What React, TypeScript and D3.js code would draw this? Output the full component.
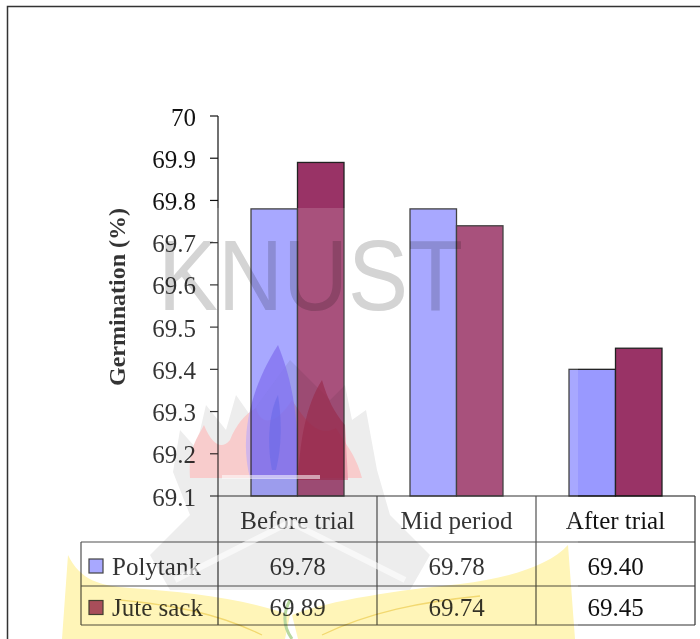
import React from 'react';
import * as d3 from 'd3';

const categories = ['Before trial', 'Mid period', 'After trial'];
const seriesNames = ['Polytank', 'Jute sack'];
const polytankValues = [69.78, 69.78, 69.4];
const juteSackValues = [69.89, 69.74, 69.45];
const seriesColors = ['#9999ff', '#993366'];
const yTickValues = [69.1, 69.2, 69.3, 69.4, 69.5, 69.6, 69.7, 69.8, 69.9, 70];
const yTickLabels = ['69.1', '69.2', '69.3', '69.4', '69.5', '69.6', '69.7', '69.8', '69.9', '70'];
const yAxisTitle = 'Germination (%)';
const watermarkText = 'KNUST';

const W = 700;
const H = 639;
const plotLeft = 218;
const plotRight = 695;
const plotTop = 116;
const plotBottom = 496;
const headerBottom = 542;
const row1Bottom = 586;
const row2Bottom = 625;
const legendLeft = 81;
const serif = '"Liberation Serif", "Times New Roman", serif';

export default function App() {
  const seriesValues = [polytankValues, juteSackValues];
  const x = d3.scaleBand<string>().domain(categories).range([plotLeft, plotRight]).padding(0);
  const bw = x.bandwidth();
  const xs = d3
    .scaleBand<string>()
    .domain(seriesNames)
    .range([0, bw])
    .paddingInner(0)
    .paddingOuter(0.71);
  const y = d3.scaleLinear().domain([69.1, 70]).range([plotBottom, plotTop]);

  const rowBottoms = [row1Bottom, row2Bottom];
  const rowTops = [headerBottom, row1Bottom];
  const mult: React.CSSProperties = { mixBlendMode: 'multiply' };

  return (
    <svg
      width={W}
      height={H}
      style={{ position: 'absolute', left: 0, top: 0, display: 'block', background: '#fff' }}
    >
      <rect x={0} y={0} width={W} height={H} fill="#fff" />
      <rect x={7.5} y={6.5} width={W + 20} height={H + 20} fill="none" stroke="#333" strokeWidth={1.5} />

      {/* bars */}
      {categories.map((c, ci) =>
        seriesNames.map((s, si) => {
          const v = seriesValues[si][ci];
          const bx = (x(c) as number) + (xs(s) as number);
          return (
            <rect
              key={c + s}
              x={bx}
              y={y(v)}
              width={xs.bandwidth()}
              height={plotBottom - y(v)}
              fill={seriesColors[si]}
              stroke="#222"
              strokeWidth={1.3}
            />
          );
        })
      )}

      {/* y axis */}
      <line x1={plotLeft} x2={plotLeft} y1={plotTop} y2={row2Bottom} stroke="#111" strokeWidth={1.2} />
      {yTickValues.map((t, i) => (
        <g key={t}>
          <line x1={plotLeft - 8} x2={plotLeft} y1={y(t)} y2={y(t)} stroke="#111" strokeWidth={1.2} />
          <text
            x={plotLeft - 22}
            y={y(t) + 1}
            textAnchor="end"
            dominantBaseline="central"
            fontFamily={serif}
            fontSize={25}
            fill="#111"
          >
            {yTickLabels[i]}
          </text>
        </g>
      ))}
      <text
        transform={`translate(117, 297) rotate(-90)`}
        textAnchor="middle"
        dominantBaseline="central"
        fontFamily={serif}
        fontWeight="bold"
        fontSize={24}
        fill="#111"
      >
        {yAxisTitle}
      </text>

      {/* data table */}
      <line x1={plotLeft} x2={plotRight} y1={plotBottom} y2={plotBottom} stroke="#111" strokeWidth={1.2} />
      <line x1={legendLeft} x2={plotRight} y1={headerBottom} y2={headerBottom} stroke="#333" strokeWidth={1.2} />
      <line x1={legendLeft} x2={plotRight} y1={row1Bottom} y2={row1Bottom} stroke="#333" strokeWidth={1.2} />
      <line x1={legendLeft} x2={plotRight} y1={row2Bottom} y2={row2Bottom} stroke="#333" strokeWidth={1.2} />
      <line x1={legendLeft} x2={legendLeft} y1={headerBottom} y2={row2Bottom} stroke="#333" strokeWidth={1.2} />
      {categories.map((c) => (
        <line
          key={'v' + c}
          x1={(x(c) as number) + bw}
          x2={(x(c) as number) + bw}
          y1={plotBottom}
          y2={row2Bottom}
          stroke="#333"
          strokeWidth={1.2}
        />
      ))}
      {categories.map((c) => (
        <text
          key={'h' + c}
          x={(x(c) as number) + bw / 2}
          y={520}
          textAnchor="middle"
          dominantBaseline="central"
          fontFamily={serif}
          fontSize={25}
          fill="#111"
        >
          {c}
        </text>
      ))}
      {seriesNames.map((s, si) => {
        const cy = (rowTops[si] + rowBottoms[si]) / 2 + 2;
        return (
          <g key={'r' + s}>
            <rect x={89} y={cy - 7} width={14} height={14} fill={seriesColors[si]} stroke="#222" strokeWidth={1.2} />
            <text x={112} y={cy} dominantBaseline="central" fontFamily={serif} fontSize={25} fill="#111">
              {s}
            </text>
            {categories.map((c, ci) => (
              <text
                key={c}
                x={(x(c) as number) + bw / 2}
                y={cy}
                textAnchor="middle"
                dominantBaseline="central"
                fontFamily={serif}
                fontSize={25}
                fill="#111"
              >
                {seriesValues[si][ci].toFixed(2)}
              </text>
            ))}
          </g>
        );
      })}

      {/* watermark */}
      <rect x={40} y={208} width={538} height={H - 208} fill="#fff" opacity={0.15} />
      <g style={mult}>
        {/* grey emblem body */}
        <path
          d="M 173 472 L 180 430 L 196 448 L 206 405 L 226 430 L 236 395 L 250 415 L 290 360 L 330 400 L 345 385 L 352 420 L 366 410 L 377 470 L 390 515 L 430 555 L 410 590 L 170 590 L 150 555 L 190 515 Z"
          fill="#ededed"
        />
        {/* pink flame */}
        <path
          d="M 190 478 C 188 450 196 440 204 425 C 212 445 222 450 230 440 C 236 425 244 415 256 408 C 262 430 280 420 292 400 C 305 420 318 438 336 428 C 346 445 356 455 362 478 Z"
          fill="#f8cccc"
        />
        {/* blue flame */}
        <path
          d="M 250 478 C 240 440 248 392 278 345 C 292 380 300 420 297 478 Z"
          fill="#c8b0f0"
          opacity={0.8}
        />
        <path d="M 272 470 C 266 440 270 410 278 395 C 282 420 282 445 276 470 Z" fill="#a0a0e8" opacity={0.6} />
        {/* red flame */}
        <path
          d="M 298 480 C 300 440 306 405 322 380 C 328 400 334 412 345 425 L 348 480 Z"
          fill="#e88aa0"
          opacity={0.7}
        />
        {/* wings */}
        <path
          d="M 290 615 C 250 600 190 592 130 588 C 100 586 80 580 68 555 L 62 639 L 285 639 Z"
          fill="#fff5b8"
        />
        <path
          d="M 292 615 C 330 600 400 590 460 584 C 510 578 550 565 568 545 L 575 639 L 298 639 Z"
          fill="#fff5b8"
        />
        <path d="M 120 600 C 170 605 215 612 262 635" fill="none" stroke="#f2d870" strokeWidth={1.3} />
        <path d="M 480 596 C 420 602 370 612 322 635" fill="none" stroke="#f2d870" strokeWidth={1.3} />
        <path d="M 290 600 C 282 615 284 628 292 639" fill="none" stroke="#b8d8a0" strokeWidth={3} />
        <text
          x={158}
          y={310}
          fontFamily='"Liberation Sans", Arial, sans-serif'
          fontSize={100}
          fill="#d4d4d4"
          textLength={305}
          lengthAdjust="spacingAndGlyphs"
        >
          {watermarkText}
        </text>
      </g>
      {/* white stand and chevron */}
      <line x1={222} x2={320} y1={477} y2={477} stroke="#fff" strokeWidth={4} opacity={0.55} />
      <polyline points="175,580 290,522 405,580" fill="none" stroke="#fff" strokeWidth={6} opacity={0.6} />
    </svg>
  );
}
